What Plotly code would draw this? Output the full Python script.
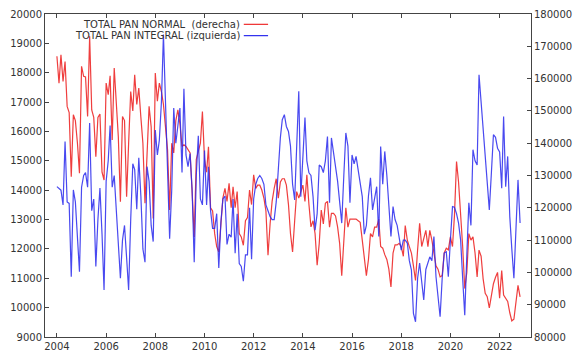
import pandas as pd
import plotly.graph_objects as go

# Monthly data, Jan 2004 .. Nov 2022
months = pd.date_range("2004-01-01", periods=227, freq="MS")

pan_normal = [  # right axis (derecha)
    166900, 158600, 167400, 159100, 165300, 151400, 149500, 129600, 148800, 147000, 140000, 130700,
    163800, 160700, 160500, 148300, 173100, 150300, 148000, 135800, 148000, 149000, 131000, 128600,
    158600, 155000, 160900, 141000, 163300, 152000, 142000, 121900, 148300, 147000, 123400, 140000,
    156000, 150000, 161200, 152000, 157100, 148000, 140000, 121400, 137900, 151400, 145000, 116700,
    161700, 153000, 158600, 156000, 152000, 145000, 138000, 119300, 140000, 137000, 147000, 150300,
    146000, 139000, 139500, 139000, 138000, 137000, 125000, 111000, 135000, 138000, 140000, 149800,
    135000, 131000, 138900, 120000, 119000, 112000, 108000, 106300, 115000, 123000, 126000, 122000,
    127600, 120000, 126500, 120000, 125000, 112000, 111000, 108400, 116000, 117000, 125500, 121000,
    130200, 126000, 127000, 127000, 125500, 123000, 119000, 105300, 115000, 122000, 126000, 129000,
    123000, 128000, 129000, 129000, 127000, 121000, 112000, 106300, 116000, 125000, 123000, 125000,
    127000, 122000, 130200, 121000, 114100, 116000, 112000, 102200, 109000, 119300, 115000, 121400,
    122000, 114000, 118300, 118300, 117500, 114000, 109000, 99000, 110000, 120000, 114000, 116500,
    116500, 116500, 116500, 116000, 115500, 110000, 105000, 99000, 104000, 112000, 111000, 114000,
    114000, 116500, 108000, 107500, 105500, 104000, 101000, 95500, 106000, 108500, 108500, 109000,
    108000, 105000, 114500, 110000, 108000, 106000, 102000, 97500, 107000, 115200, 108000, 110500,
    113000, 108000, 113000, 110000, 106000, 102000, 101000, 98600, 99000, 106000, 107500, 107000,
    111000, 108000, 117500, 134300, 128000, 119000, 108000, 95000, 100000, 112000, 110000, 111000,
    106000, 98600, 106900, 105000, 98000, 93500, 92500, 89000, 93000, 96500, 98500, 100000,
    92000, 100600, 93000, 92000, 91000, 87500, 85000, 85500, 91000, 96000, 92400,
]

pan_integral = [  # left axis (izquierda)
    14120, 14050, 14000, 13500, 15660, 13600, 13550, 11050, 14010, 13600, 12300, 11220,
    14100, 14500, 14600, 14100, 16290, 13300, 13700, 11400, 13000, 14070, 12500, 10600,
    14300, 15000, 16200, 14100, 14500, 13200, 12000, 11000, 12300, 12800, 11700, 10600,
    13000, 14900, 14700, 13350, 15100, 13800, 12000, 11550, 14800, 14300, 12800, 12250,
    16050, 15200, 15700, 17000, 19300, 17000, 14800, 12350, 14000, 16800, 15600, 16100,
    16800, 14600, 17450, 15200, 14800, 15250, 14000, 11550, 14500, 15850, 13700, 13500,
    15350, 13500, 14800, 13300, 12700, 12700, 13200, 11350, 12900, 13700, 13800, 12150,
    12500, 12400, 13700, 11850, 13200, 11500, 11400, 10900, 11800, 11800, 13400, 11650,
    13700, 14200, 14400, 14500, 14400, 14200, 13500, 13300, 13100, 13000, 13000, 13600,
    14800, 15800, 16400, 16570, 16170, 16000, 15500, 14200, 13670, 15500, 17370, 13780,
    15000, 16470, 15000, 14590, 14500, 13780, 12640, 13200, 14860, 14800, 14600, 15000,
    15830, 13570, 15780, 15300, 14700, 14300, 13600, 12880, 14500, 15950, 15500, 13570,
    15200, 14900, 15150, 14700, 14300, 13780, 12500, 12800, 13800, 14420, 13330, 13800,
    14120, 12420, 15490, 14200, 15320, 14500, 13500, 12420, 13440, 13000, 12800, 12420,
    11960, 12300, 12300, 12200, 11600, 11280, 9800, 9520, 11000, 11520, 10800, 10260,
    11300, 11520, 11730, 11600, 12420, 11050, 10300, 9690, 11000, 11860, 11900, 11050,
    12300, 13440, 13420, 13200, 12880, 12300, 11000, 9740, 11800, 13570, 12800, 15380,
    15000, 14860, 17930, 17000, 16000, 15000, 14200, 13330, 14600, 15890, 15800, 15430,
    15300, 14070, 16510, 14120, 15150, 13100, 12000, 11000, 12700, 14350, 12880,
]

name_normal = "TOTAL PAN NORMAL &nbsp;(derecha)"
name_integral = "TOTAL PAN INTEGRAL (izquierda)"

red = "#ee2a2a"
blue = "#2a2aee"
axis_col = "#444444"
txt_col = "#333333"
font = dict(family="DejaVu Sans", size=10, color=txt_col)

fig = go.Figure()
fig.add_trace(go.Scatter(x=months, y=pan_normal, mode="lines", yaxis="y",
                         line=dict(color=red, width=1.2), opacity=0.9,
                         name=name_normal, showlegend=False))
fig.add_trace(go.Scatter(x=months, y=pan_integral, mode="lines", yaxis="y2",
                         line=dict(color=blue, width=1.2), opacity=0.85,
                         name=name_integral, showlegend=False))

fig.update_layout(
    width=578, height=353,
    margin=dict(l=45, r=47, t=14, b=16, pad=0, autoexpand=False),
    paper_bgcolor="white", plot_bgcolor="white",
    font=font,
    xaxis=dict(
        range=["2003-07-08", "2023-04-12"],
        tick0="2004-01-01", dtick="M24", tickformat="%Y",
        ticks="inside", ticklen=4, tickcolor=axis_col,
        showline=True, linecolor=axis_col, linewidth=1, mirror="ticks",
        showgrid=False, zeroline=False, tickfont=font, automargin=False,
    ),
    yaxis=dict(  # right axis, red
        side="right", range=[80000, 180000], dtick=10000, tickformat="d",
        ticks="inside", ticklen=4, tickcolor=axis_col,
        showline=True, linecolor=axis_col, linewidth=1,
        showgrid=False, zeroline=False, tickfont=font, automargin=False,
    ),
    yaxis2=dict(  # left axis, blue
        side="left", overlaying="y", range=[9000, 20000], dtick=1000, tickformat="d",
        ticks="inside", ticklen=4, tickcolor=axis_col,
        showline=True, linecolor=axis_col, linewidth=1,
        showgrid=False, zeroline=False, tickfont=font, automargin=False,
    ),
)

# gnuplot-style key: text then line sample
key_x_text = 0.405
key_x0, key_x1 = 0.409, 0.459
for yy, label, col in [(0.968, name_normal, red), (0.933, name_integral, blue)]:
    fig.add_annotation(x=key_x_text, y=yy, xref="paper", yref="paper",
                       text=label, showarrow=False, xanchor="right", yanchor="middle",
                       font=font)
    fig.add_shape(type="line", xref="paper", yref="paper",
                  x0=key_x0, x1=key_x1, y0=yy, y1=yy,
                  line=dict(color=col, width=1.2))

fig.write_html(
    "out.html",
    config={"displayModeBar": False},
    post_script="document.body.style.margin='0';document.body.style.padding='0';",
)
